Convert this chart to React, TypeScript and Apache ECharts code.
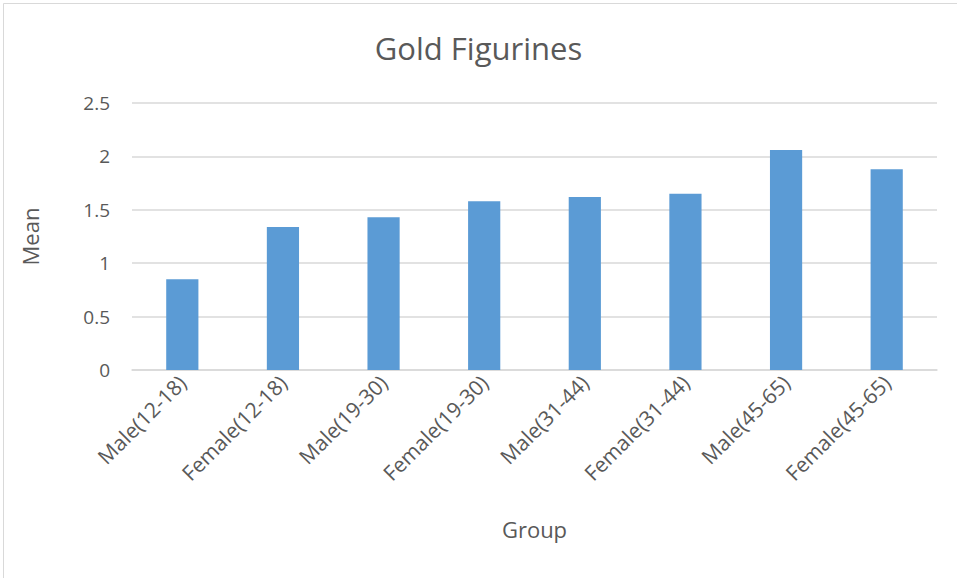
import React, { useEffect, useRef } from "react";
import * as echarts from "echarts";

const categories = [
  "Male(12-18)",
  "Female(12-18)",
  "Male(19-30)",
  "Female(19-30)",
  "Male(31-44)",
  "Female(31-44)",
  "Male(45-65)",
  "Female(45-65)",
];
const meanValues = [0.85, 1.34, 1.43, 1.58, 1.62, 1.65, 2.06, 1.88];
const yTicks = { min: 0, max: 2.5, interval: 0.5 };

const FONT = "'Open Sans', 'Noto Sans', sans-serif";
const TEXT = "#595959";

export default function App() {
  const ref = useRef<HTMLDivElement>(null);
  useEffect(() => {
    if (!ref.current) return;
    const chart = echarts.init(ref.current, undefined, { renderer: "svg" });
    chart.setOption({
      animation: false,
      backgroundColor: "#ffffff",
      title: {
        text: "Gold Figurines",
        left: "center",
        top: 27,
        textStyle: { fontFamily: FONT, fontSize: 31, fontWeight: "normal", color: TEXT },
      },
      grid: { left: 132, right: 20, top: 103, bottom: 208, containLabel: false },
      xAxis: {
        type: "category",
        data: categories,
        name: "Group",
        nameLocation: "middle",
        nameGap: 148,
        nameTextStyle: { fontFamily: FONT, fontSize: 22, color: TEXT },
        axisLine: { lineStyle: { color: "#d9d9d9", width: 1.5 } },
        axisTick: { show: false },
        axisLabel: {
          rotate: 45,
          interval: 0,
          margin: 9,
          fontFamily: FONT,
          fontSize: 21,
          color: TEXT,
        },
      },
      yAxis: {
        type: "value",
        min: yTicks.min,
        max: yTicks.max,
        interval: yTicks.interval,
        name: "Mean",
        nameLocation: "middle",
        nameGap: 91,
        nameRotate: 90,
        nameTextStyle: { fontFamily: FONT, fontSize: 22, color: TEXT },
        axisLine: { show: false },
        axisTick: { show: false },
        axisLabel: {
          margin: 22,
          fontFamily: FONT,
          fontSize: 19,
          color: TEXT,
          formatter: (v: number) => String(v),
        },
        splitLine: { lineStyle: { color: "#d9d9d9", width: 1.5 } },
      },
      series: [
        {
          type: "bar",
          data: meanValues,
          barWidth: "32%",
          itemStyle: { color: "#5b9bd5" },
        },
      ],
      graphic: [
        {
          type: "rect",
          shape: { x: 3.5, y: 3.5, width: 1000, height: 1000 },
          style: { fill: "none", stroke: "#d9d9d9", lineWidth: 1 },
          silent: true,
        },
      ],
    });
    return () => chart.dispose();
  }, []);
  return (
    <div
      ref={ref}
      style={{ position: "absolute", left: 0, top: 0, width: 957, height: 578 }}
    />
  );
}
